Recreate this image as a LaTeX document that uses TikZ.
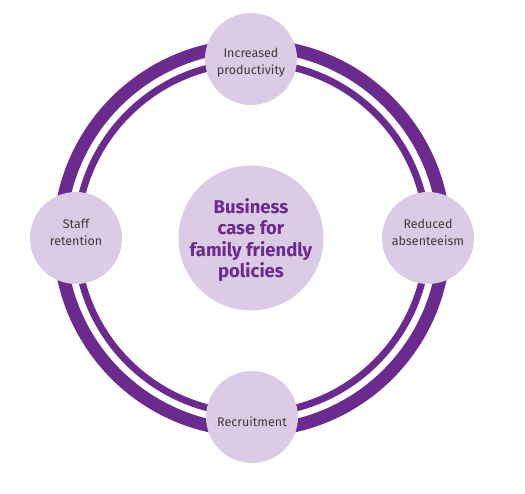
\documentclass[tikz,border=0pt]{standalone}
\usepackage{fontspec}
\setmainfont{Fira Sans}
\definecolor{ringpurple}{HTML}{6A2A8E}
\definecolor{lav}{HTML}{DCCBE4}
\definecolor{txt}{HTML}{3C3C3C}
\tikzset{
  ringband/.style={draw=ringpurple},
  disc/.style={circle, fill=lav, inner sep=0pt},
  spoke/.style={disc, minimum size=92pt},
  spoketext/.style={align=center, inner sep=0pt, text=txt, font=\fontsize{12.5}{17}\selectfont},
  hub/.style={disc, minimum size=145pt},
  hubtext/.style={align=center, inner sep=0pt, text=ringpurple, font=\bfseries\fontsize{18.5}{21.5}\selectfont}
}
\begin{document}
\begin{tikzpicture}[x=1pt,y=-1pt]
\useasboundingbox (0,0) rectangle (525,494);
\coordinate (c) at (252,238);
\draw[ringband, line width=13pt] (c) circle[radius=192.5pt];
\draw[ringband, line width=7pt] (c) circle[radius=175.5pt];
\node[hub] (hub) at (251,238) {};
\node[hubtext] (hubt) at ([yshift=-2pt]hub.center) {Business\\case for\\family friendly\\policies};
\node[spoke] (prod) at (251,59) {};
\node[spoketext] (prodt) at ([yshift=-4pt]prod.center) {Increased\\productivity};
\node[spoke] (abs) at (428,238) {};
\node[spoketext] (abst) at ([yshift=5.5pt]abs.center) {Reduced\\absenteeism};
\node[spoke] (ret) at (76,238) {};
\node[spoketext] (rett) at ([yshift=5.5pt]ret.center) {Staff\\retention};
\node[spoke] (rec) at (252,417) {};
\node[spoketext] (rect) at ([yshift=-5pt]rec.center) {Recruitment};
\end{tikzpicture}
\end{document}
